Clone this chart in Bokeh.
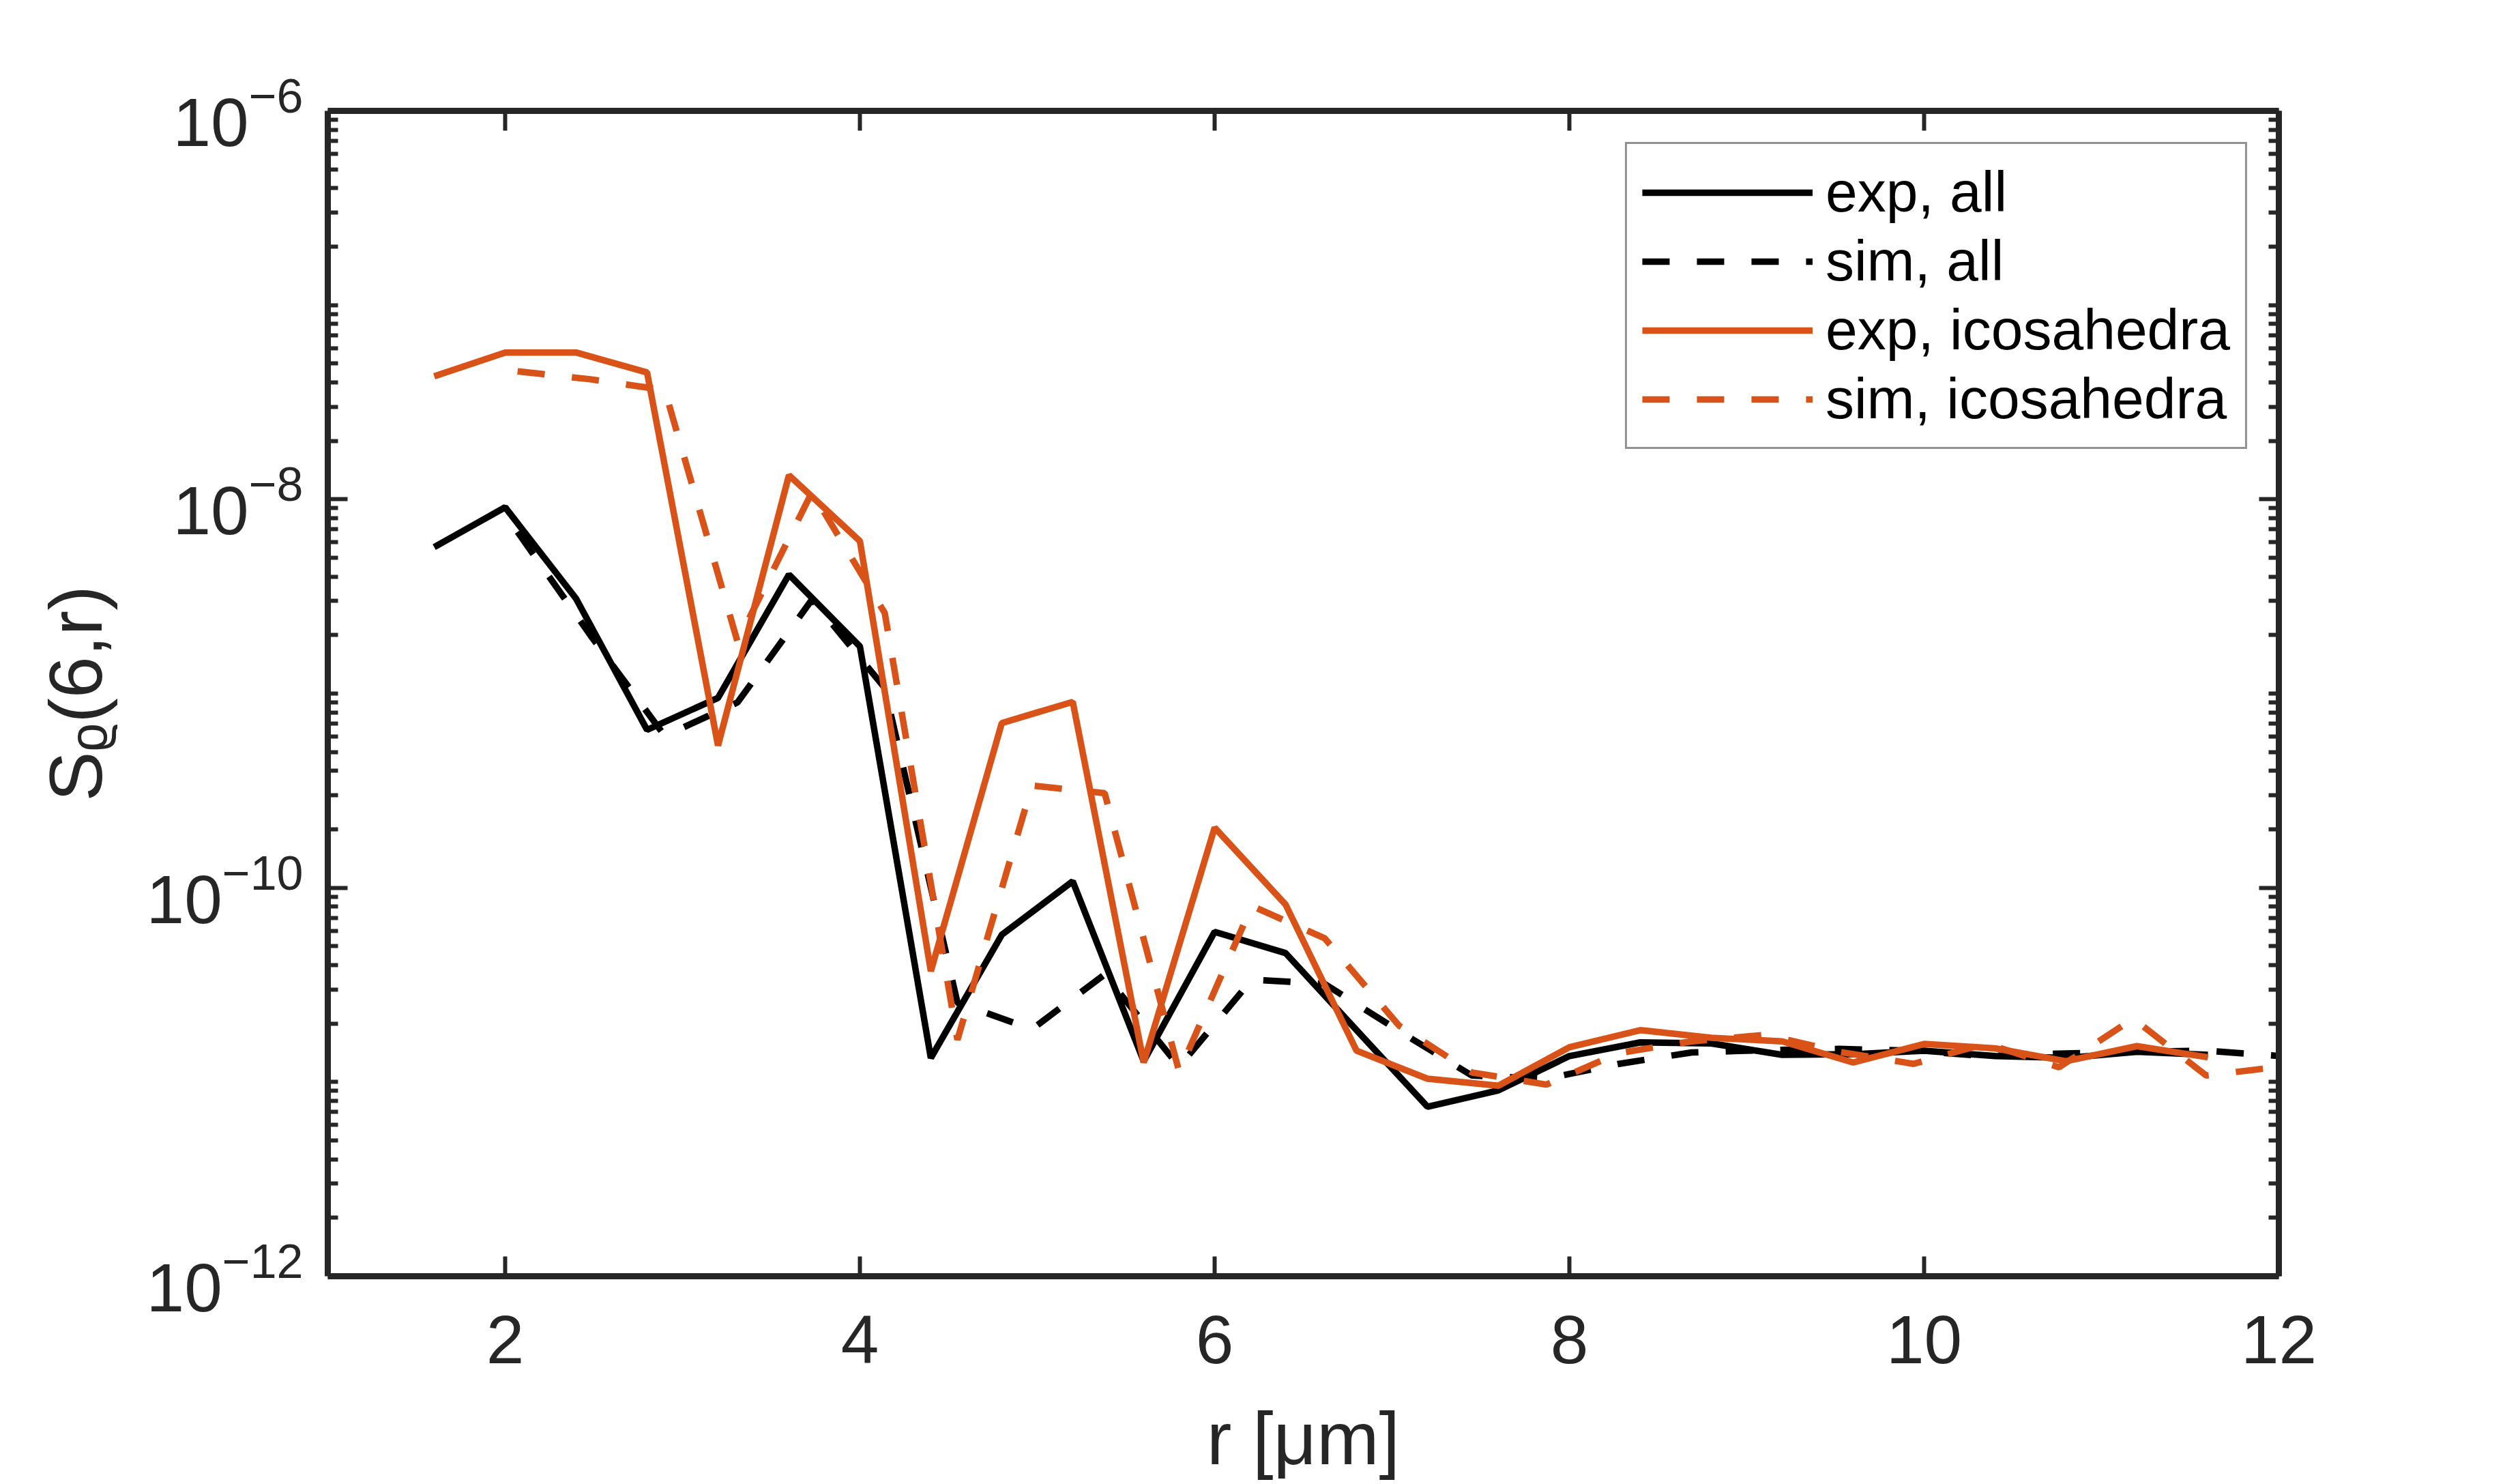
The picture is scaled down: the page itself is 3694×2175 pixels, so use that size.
from bokeh.plotting import figure
from bokeh.models import (Range1d, FixedTicker, LogAxis, LinearAxis, Legend,
                          LegendItem, CustomJSTickFormatter)
from bokeh.embed import file_html
from bokeh.resources import INLINE

# ---- data ----
r_exp = [1.6, 2.0, 2.4, 2.8, 3.2, 3.6, 4.0, 4.4, 4.8, 5.2, 5.6, 6.0, 6.4,
         6.8, 7.2, 7.6, 8.0, 8.4, 8.8, 9.2, 9.6, 10.0, 10.4, 10.8, 11.2, 11.6]
exp_all = [5.67e-9, 9.1e-9, 3.08e-9, 6.5e-10, 9.5e-10, 4.1e-9, 1.75e-9,
           1.33e-11, 5.73e-11, 1.08e-10, 1.28e-11, 5.93e-11, 4.61e-11,
           1.85e-11, 7.46e-12, 9.06e-12, 1.36e-11, 1.6e-11, 1.58e-11,
           1.38e-11, 1.39e-11, 1.45e-11, 1.36e-11, 1.33e-11, 1.43e-11, 1.38e-11]
exp_ico = [4.3e-8, 5.7e-8, 5.7e-8, 4.5e-8, 5.4e-10, 1.33e-8, 6.1e-9,
           3.72e-11, 7.05e-10, 9.06e-10, 1.26e-11, 2.04e-10, 8.2e-11,
           1.45e-11, 1.04e-11, 9.57e-12, 1.51e-11, 1.85e-11, 1.69e-11,
           1.62e-11, 1.26e-11, 1.57e-11, 1.49e-11, 1.28e-11, 1.53e-11, 1.34e-11]

r_sim = [2.07, 2.48, 2.90, 3.31, 3.73, 4.14, 4.55, 4.97, 5.38, 5.80, 6.21,
         6.62, 7.04, 7.45, 7.87, 8.28, 8.69, 9.11, 9.52, 9.94, 10.35, 10.76,
         11.18, 11.59, 12.01, 12.42]
sim_all = [6.8e-9, 2.0e-9, 6.05e-10, 9.0e-10, 3.05e-9, 1.07e-9, 2.56e-11,
           1.87e-11, 3.58e-11, 1.2e-11, 3.37e-11, 3.2e-11, 1.83e-11, 1.08e-11,
           1.04e-11, 1.24e-11, 1.42e-11, 1.46e-11, 1.48e-11, 1.45e-11,
           1.36e-11, 1.4e-11, 1.43e-11, 1.45e-11, 1.36e-11, 1.33e-11]
sim_ico = [4.56e-8, 4.15e-8, 3.65e-8, 1.85e-9, 1.09e-8, 2.6e-9, 1.65e-11,
           3.36e-10, 3.07e-10, 1.13e-11, 8.07e-11, 5.5e-11, 1.95e-11,
           1.12e-11, 9.7e-12, 1.41e-11, 1.62e-11, 1.75e-11, 1.43e-11,
           1.24e-11, 1.58e-11, 1.19e-11, 2.12e-11, 1.08e-11, 1.2e-11]

x_ticks = [2, 4, 6, 8, 10, 12]
y_ticks = [1e-12, 1e-10, 1e-8, 1e-6]
y_minor = [m * 10.0 ** e for e in range(-12, -6) for m in range(1, 10)
           if not (m == 1 and e % 2 == 0)]

series_labels = ["exp, all", "sim, all", "exp, icosahedra", "sim, icosahedra"]

BLACK = "#000000"
ORANGE = "#D95319"
AX = "#262626"
FONT = "Liberation Sans"

p = figure(output_backend="svg", toolbar_location=None,
           x_axis_type="linear", y_axis_type="log",
           x_range=Range1d(1, 12), y_range=Range1d(1e-12, 1e-6),
           frame_width=2860, frame_height=1708,
           min_border_left=480, min_border_top=162,
           min_border_right=338, min_border_bottom=289)
p.background_fill_color = "white"
p.border_fill_color = "white"
p.outline_line_color = None
p.xgrid.visible = False
p.ygrid.visible = False

xt = FixedTicker(ticks=x_ticks)
yt = FixedTicker(ticks=y_ticks, minor_ticks=y_minor)
blank = CustomJSTickFormatter(code="return ''")


def style(ax, minor):
    ax.axis_line_color = AX
    ax.axis_line_width = 9
    ax.major_tick_line_color = AX
    ax.major_tick_line_width = 6
    ax.major_tick_in = 29
    ax.major_tick_out = 0
    if minor:
        ax.minor_tick_line_color = AX
        ax.minor_tick_line_width = 6
        ax.minor_tick_in = 15
        ax.minor_tick_out = 0
    else:
        ax.minor_tick_line_color = None
    ax.major_label_text_font = FONT
    ax.major_label_text_font_size = "100px"
    ax.major_label_text_color = AX
    ax.axis_label_text_font = FONT
    ax.axis_label_text_font_size = "110px"
    ax.axis_label_text_font_style = "normal"
    ax.axis_label_text_color = AX


xa = p.xaxis[0]
xa.ticker = xt
style(xa, False)
xa.major_label_standoff = 58
xa.axis_label = "r [μm]"
xa.axis_label_standoff = 45

ya = p.yaxis[0]
ya.ticker = yt
style(ya, True)
ya.major_label_standoff = 36
ya.axis_label = "Sᵨ(6,r)"
ya.axis_label_standoff = 40

top = LinearAxis(ticker=xt, formatter=blank)
style(top, False)
p.add_layout(top, "above")
right = LogAxis(ticker=yt, formatter=blank)
style(right, True)
p.add_layout(right, "right")

lw = 9.5
r1 = p.line(r_exp, exp_all, line_color=BLACK, line_width=lw)
r2 = p.line(r_sim, sim_all, line_color=BLACK, line_width=lw, line_dash="40 40")
r3 = p.line(r_exp, exp_ico, line_color=ORANGE, line_width=lw)
r4 = p.line(r_sim, sim_ico, line_color=ORANGE, line_width=lw, line_dash="40 40")

legend = Legend(items=[LegendItem(label=series_labels[0], renderers=[r1]),
                       LegendItem(label=series_labels[1], renderers=[r2]),
                       LegendItem(label=series_labels[2], renderers=[r3]),
                       LegendItem(label=series_labels[3], renderers=[r4])],
                location="top_right")
legend.margin = 46
legend.padding = 22
legend.spacing = 4
legend.glyph_width = 250
legend.glyph_height = 92
legend.label_standoff = 19
legend.label_text_font = FONT
legend.label_text_font_size = "84px"
legend.label_text_color = BLACK
legend.border_line_color = AX
legend.border_line_width = 3
legend.background_fill_color = "white"
legend.background_fill_alpha = 1.0
p.add_layout(legend)

open("out.html", "w").write(file_html(p, INLINE))
